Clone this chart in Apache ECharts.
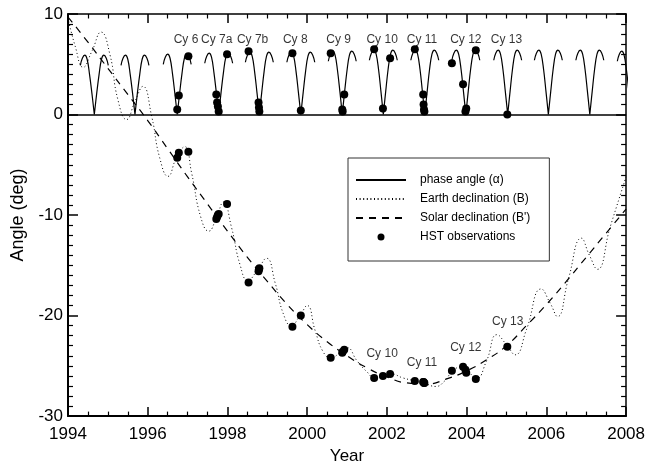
<!DOCTYPE html>
<html>
<head>
<meta charset="utf-8">
<script src="https://cdn.jsdelivr.net/npm/echarts@6/dist/echarts.min.js"></script>
<style>
html, body { margin: 0; padding: 0; background: #fff; }
#chart { width: 648px; height: 470px; }
</style>
</head>
<body>
<div id="chart"></div>
<script>
// times of zero phase angle (oppositions)
var oppositions = [1994.66, 1995.68, 1996.74, 1997.78, 1998.80, 1999.84, 2000.88, 2001.91, 2002.95, 2003.98, 2005.03, 2006.05, 2007.09, 2008.13];
// offsets (years) from opposition where each arc was read
var arcOffsets = [-0.35, -0.30, -0.24, -0.18, -0.12, -0.06, 0, 0.06, 0.12, 0.18, 0.24, 0.30, 0.35];
// phase angle (deg) along each arc
var arcValues = [
    [4.9, 5.6, 5.9, 5.5, 4.0, 2.1, 0, 2.1, 4.0, 5.5, 5.9, 5.6, 4.9],
    [4.9, 5.6, 5.9, 5.5, 4.0, 2.1, 0, 2.1, 4.0, 5.5, 5.9, 5.6, 4.9],
    [5.0, 5.7, 6.0, 5.6, 4.1, 2.1, 0, 2.1, 4.1, 5.6, 6.0, 5.7, 5.0],
    [5.1, 5.8, 6.1, 5.7, 4.2, 2.2, 0, 2.2, 4.2, 5.7, 6.1, 5.8, 5.1],
    [5.2, 5.9, 6.2, 5.8, 4.3, 2.2, 0, 2.2, 4.3, 5.8, 6.2, 5.9, 5.2],
    [5.2, 5.9, 6.2, 5.8, 4.3, 2.2, 0, 2.2, 4.3, 5.8, 6.2, 5.9, 5.2],
    [5.3, 6.0, 6.3, 5.9, 4.4, 2.3, 0, 2.3, 4.4, 5.9, 6.3, 6.0, 5.3],
    [5.4, 6.1, 6.4, 6.0, 4.5, 2.3, 0, 2.3, 4.5, 6.0, 6.4, 6.1, 5.4],
    [5.4, 6.1, 6.4, 6.0, 4.5, 2.3, 0, 2.3, 4.5, 6.0, 6.4, 6.1, 5.4],
    [5.4, 6.1, 6.4, 6.0, 4.5, 2.3, 0, 2.3, 4.5, 6.0, 6.4, 6.1, 5.4],
    [5.4, 6.1, 6.4, 6.0, 4.5, 2.3, 0, 2.3, 4.5, 6.0, 6.4, 6.1, 5.4],
    [5.4, 6.1, 6.4, 6.0, 4.5, 2.3, 0, 2.3, 4.5, 6.0, 6.4, 6.1, 5.4],
    [5.4, 6.1, 6.4, 6.0, 4.5, 2.3, 0, 2.3, 4.5, 6.0, 6.4, 6.1, 5.4],
    [5.3, 6.0, 6.3, 5.9, 4.4, 2.3, 0, 2.3, 4.4, 5.9, 6.3, 6.0, 5.3]
];

// Earth declination B (dotted)
var earthTime = [1994.0, 1994.18, 1994.38, 1994.6, 1994.83, 1995.05, 1995.25, 1995.47, 1995.68, 1995.88, 1996.1, 1996.3, 1996.51, 1996.72, 1996.93, 1997.1, 1997.33, 1997.53, 1997.72, 1997.9, 1998.1, 1998.32, 1998.51, 1998.75, 1998.98, 1999.2, 1999.4, 1999.6, 1999.82, 2000.0, 2000.2, 2000.4, 2000.59, 2000.85, 2001.0, 2001.25, 2001.5, 2001.7, 2001.9, 2002.1, 2002.4, 2002.7, 2002.95, 2003.22, 2003.45, 2003.65, 2003.88, 2004.05, 2004.24, 2004.5, 2004.76, 2005.0, 2005.22, 2005.5, 2005.87, 2006.1, 2006.28, 2006.55, 2006.88, 2007.08, 2007.28, 2007.6, 2008.0];
var earthDecl = [9.6, 6.8, 4.7, 6.3, 8.2, 6.0, 1.5, -0.5, 1.3, 2.8, -0.2, -4.3, -6.15, -4.3, -3.2, -5.8, -10.2, -11.6, -10.3, -8.7, -11.2, -15.0, -16.5, -15.5, -14.3, -16.8, -19.8, -21.0, -20.0, -19.0, -21.5, -23.6, -24.2, -23.6, -23.2, -24.5, -25.6, -26.2, -26.0, -25.8, -26.2, -26.5, -26.75, -27.05, -26.5, -25.5, -25.1, -25.6, -26.3, -24.5, -21.9, -22.9, -23.9, -21.4, -17.35, -18.8, -20.1, -16.4, -12.3, -14.0, -15.4, -11.2, -6.2];

// Solar declination B' (dashed)
var solarTime = [1994.0, 1994.5, 1995.0, 1995.5, 1996.0, 1996.5, 1997.0, 1997.5, 1998.0, 1998.5, 1999.0, 1999.5, 2000.0, 2000.5, 2001.0, 2001.5, 2002.0, 2002.5, 2003.0, 2003.5, 2004.0, 2004.5, 2005.0, 2005.5, 2006.0, 2006.5, 2007.0, 2007.5, 2008.0];
var solarDecl = [9.7, 7.2, 4.6, 2.0, -0.6, -3.4, -6.2, -8.9, -11.6, -14.2, -16.6, -18.9, -20.9, -22.6, -24.0, -25.2, -26.1, -26.7, -26.8, -26.3, -25.5, -24.4, -23.0, -21.0, -18.9, -16.6, -14.2, -11.8, -9.4];

// HST observations: time, phase angle, Earth declination
var obsTime = [1996.74, 1996.78, 1997.02, 1997.72, 1997.74, 1997.76, 1997.78, 1997.99, 1998.53, 1998.78, 1998.79, 1998.80, 1999.63, 1999.84, 2000.59, 2000.88, 2000.89, 2000.93, 2001.68, 2001.90, 2002.08, 2002.70, 2002.91, 2002.92, 2002.93, 2002.94, 2003.63, 2003.91, 2003.97, 2003.99, 2004.23, 2005.02];
var obsPhase = [0.5, 1.9, 5.8, 2.0, 1.2, 0.8, 0.3, 6.0, 6.3, 1.2, 0.7, 0.3, 6.1, 0.4, 6.1, 0.5, 0.3, 2.0, 6.5, 0.6, 5.6, 6.5, 2.0, 1.0, 0.5, 0.3, 5.1, 3.0, 0.3, 0.6, 6.4, 0.0];
var obsDecl = [-4.3, -3.8, -3.7, -10.4, -10.2, -10.0, -9.9, -8.9, -16.7, -15.6, -15.4, -15.3, -21.1, -20.0, -24.2, -23.7, -23.6, -23.4, -26.2, -26.0, -25.8, -26.5, -26.6, -26.6, -26.7, -26.7, -25.5, -25.1, -25.4, -25.7, -26.3, -23.1];

// cycle labels
var cycleNames = ['Cy 6', 'Cy 7a', 'Cy 7b', 'Cy 8', 'Cy 9', 'Cy 10', 'Cy 11', 'Cy 12', 'Cy 13'];
var cycleTopTime = [1996.96, 1997.73, 1998.63, 1999.70, 2000.79, 2001.88, 2002.88, 2003.98, 2005.0];
var cycleTopValue = [7.45, 7.45, 7.45, 7.45, 7.45, 7.45, 7.45, 7.45, 7.45];
var cycleLowNames = ['Cy 10', 'Cy 11', 'Cy 12', 'Cy 13'];
var cycleLowTime = [2001.88, 2002.88, 2003.98, 2005.03];
var cycleLowValue = [-23.75, -24.7, -23.2, -20.65];

var FONT = 'Liberation Sans';

function buildPhase() {
    var res = [];
    for (var k = 0; k < oppositions.length; k++) {
        for (var i = 0; i <= 6; i++) res.push([oppositions[k] + arcOffsets[i], arcValues[k][i]]);
        res.push([oppositions[k], null]);
        for (var j = 6; j < arcOffsets.length; j++) res.push([oppositions[k] + arcOffsets[j], arcValues[k][j]]);
        res.push([oppositions[k] + 0.4, null]);
    }
    return res;
}

function zip(a, b) {
    return a.map(function (v, i) { return [v, b[i]]; });
}

var obsData = zip(obsTime, obsPhase).concat(zip(obsTime, obsDecl));

var labelData = cycleNames.map(function (n, i) {
    return { name: n, value: [cycleTopTime[i], cycleTopValue[i]] };
}).concat(cycleLowNames.map(function (n, i) {
    return { name: n, value: [cycleLowTime[i], cycleLowValue[i]] };
}));

var chart = echarts.init(document.getElementById('chart'));

function xAx(pos) {
    return {
        type: 'value', min: 1994, max: 2008, interval: 2, position: pos,
        axisLine: { show: true, onZero: false, lineStyle: { color: '#000', width: pos === 'bottom' ? 2 : 1.5 } },
        axisTick: { show: true, inside: true, length: 9, lineStyle: { color: '#000', width: 1.5 } },
        minorTick: { show: true, splitNumber: 4, length: 4.5, lineStyle: { color: '#000', width: 1.2 } },
        axisLabel: { show: pos === 'bottom', color: '#000', fontSize: 17, fontFamily: FONT, margin: 10,
            formatter: function (v) { return String(v); } },
        splitLine: { show: false },
        name: pos === 'bottom' ? 'Year' : '',
        nameLocation: 'middle', nameGap: 27,
        nameTextStyle: { color: '#000', fontSize: 17, fontFamily: FONT }
    };
}

function yAx(pos) {
    return {
        type: 'value', min: -30, max: 10, interval: 10, position: pos,
        axisLine: { show: true, onZero: false, lineStyle: { color: '#000', width: pos === 'left' ? 2 : 1.5 } },
        axisTick: { show: true, inside: true, length: 10, lineStyle: { color: '#000', width: 1.5 } },
        minorTick: { show: true, splitNumber: 10, length: 5, lineStyle: { color: '#000', width: 1.2 } },
        axisLabel: { show: pos === 'left', color: '#000', fontSize: 17, fontFamily: FONT, margin: 5 },
        splitLine: { show: false },
        name: pos === 'left' ? 'Angle (deg)' : '',
        nameLocation: 'middle', nameGap: 40,
        nameTextStyle: { color: '#000', fontSize: 18, fontFamily: FONT }
    };
}

var noMark = { opacity: 0, color: 'rgba(0,0,0,0)', borderWidth: 0 };

var option = {
    animation: false,
    backgroundColor: '#fff',
    grid: { left: 68, right: 20, top: 14, bottom: 43, containLabel: false },
    xAxis: [xAx('bottom'), xAx('top')],
    yAxis: [yAx('left'), yAx('right')],
    legend: {
        left: 348, top: 158, orient: 'vertical',
        data: [
            { name: 'phase angle (α)', itemStyle: noMark },
            { name: 'Earth declination (B)', itemStyle: noMark },
            { name: "Solar declination (B')", itemStyle: noMark },
            { name: 'HST observations', icon: 'circle', itemStyle: { color: '#000', opacity: 1 } }
        ],
        itemWidth: 50, itemHeight: 7, itemGap: 5,
        padding: [15, 19, 17, 7],
        borderColor: '#333', borderWidth: 1,
        selectedMode: false,
        textStyle: { color: '#000', fontSize: 12, fontFamily: FONT, lineHeight: 14, padding: [0, 0, 0, 9] }
    },
    series: [
        {
            name: 'phase angle (α)', type: 'line', data: buildPhase(),
            symbol: 'none', showSymbol: false, smooth: 0.4, connectNulls: false,
            lineStyle: { color: '#000', width: 1.2, type: 'solid' },
            itemStyle: { color: '#000' },
            markLine: {
                silent: true, symbol: 'none', label: { show: false },
                lineStyle: { color: '#000', width: 1.5, type: 'solid' },
                data: [{ yAxis: 0 }]
            }
        },
        {
            name: 'Earth declination (B)', type: 'line', data: zip(earthTime, earthDecl),
            symbol: 'none', showSymbol: false, smooth: 0.5,
            lineStyle: { color: '#000', width: 1, type: [1, 2.6] },
            itemStyle: { color: '#000' }
        },
        {
            name: "Solar declination (B')", type: 'line', data: zip(solarTime, solarDecl),
            symbol: 'none', showSymbol: false, smooth: 0.5,
            lineStyle: { color: '#000', width: 1.2, type: [7, 6] },
            itemStyle: { color: '#000' }
        },
        {
            name: 'HST observations', type: 'scatter', data: obsData,
            symbol: 'circle', symbolSize: 8, z: 5,
            itemStyle: { color: '#000', opacity: 1 }
        },
        {
            name: 'labels', type: 'scatter', data: labelData,
            symbolSize: 1, z: 6, silent: true,
            itemStyle: { color: 'rgba(0,0,0,0)' },
            label: { show: true, position: 'inside', formatter: '{b}', color: '#000', fontSize: 12, fontFamily: FONT }
        }
    ]
};

chart.setOption(option);
</script>
</body>
</html>
